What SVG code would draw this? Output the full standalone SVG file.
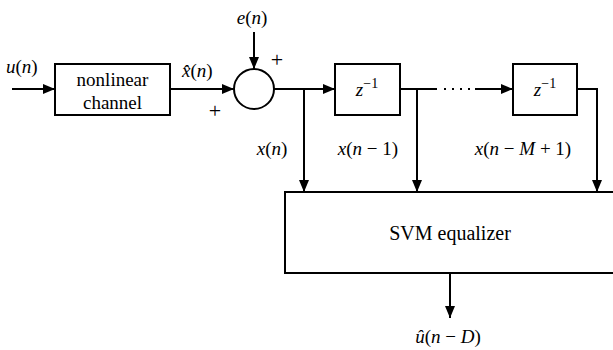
<svg xmlns="http://www.w3.org/2000/svg" width="613" height="350" viewBox="0 0 613 350">
<defs>
<marker id="ah" viewBox="0 0 12 10" refX="12" refY="5" markerWidth="12" markerHeight="10" markerUnits="userSpaceOnUse" orient="auto">
<path d="M0,0 L12,5 L0,10 Z" fill="#000"/>
</marker>
</defs>
<style>
.box{fill:#fff;stroke:#000;stroke-width:2}
.ln{fill:none;stroke:#000;stroke-width:2}
.tx{font-family:'Liberation Serif','Times New Roman',serif;font-size:19px;fill:#000}
.plus{font-family:'Liberation Serif','Times New Roman',serif;font-size:22px;fill:#000}
.i{font-style:italic}
</style>
<rect width="613" height="350" fill="#fff"/>
<g id="connectors">
<line class="ln" x1="12" y1="89" x2="55" y2="89" marker-end="url(#ah)"/>
<line class="ln" x1="170" y1="89" x2="234" y2="89" marker-end="url(#ah)"/>
<line class="ln" x1="254" y1="32" x2="254" y2="69" marker-end="url(#ah)"/>
<line class="ln" x1="274" y1="89" x2="335" y2="89" marker-end="url(#ah)"/>
<line class="ln" x1="304" y1="88" x2="304" y2="192" marker-end="url(#ah)"/>
<line class="ln" x1="400" y1="89" x2="437" y2="89"/>
<line class="ln" x1="417" y1="88" x2="417" y2="192" marker-end="url(#ah)"/>
<line x1="444" y1="89" x2="470" y2="89" stroke="#000" stroke-width="2" stroke-dasharray="2,6"/>
<line class="ln" x1="475" y1="89" x2="513" y2="89" marker-end="url(#ah)"/>
<polyline class="ln" points="577,89 597,89 597,192" marker-end="url(#ah)"/>
<line class="ln" x1="450" y1="273" x2="450" y2="318" marker-end="url(#ah)"/>
</g>
<g id="channel">
<rect class="box" x="55" y="64" width="115" height="51"/>
<text class="tx" x="112.5" y="86" text-anchor="middle">nonlinear</text>
<text class="tx" x="112.5" y="109" text-anchor="middle">channel</text>
</g>
<g id="adder">
<circle cx="254" cy="89" r="20" fill="#fff" stroke="#000" stroke-width="2"/>
<text class="plus" x="277" y="67" text-anchor="middle">+</text>
<text class="plus" x="215" y="118" text-anchor="middle">+</text>
</g>
<g id="delay1">
<rect class="box" x="335" y="64" width="65" height="51"/>
<text class="tx" x="367" y="96" text-anchor="middle"><tspan class="i">z</tspan><tspan font-size="14" dy="-8">−1</tspan></text>
</g>
<g id="delay2">
<rect class="box" x="513" y="64" width="64" height="51"/>
<text class="tx" x="545" y="96" text-anchor="middle"><tspan class="i">z</tspan><tspan font-size="14" dy="-8">−1</tspan></text>
</g>
<g id="svm">
<rect class="box" x="285" y="192" width="340" height="81"/>
<text class="tx" x="450" y="240" style="font-size:20px" text-anchor="middle">SVM equalizer</text>
</g>
<g id="labels">
<text class="tx" x="6" y="73"><tspan class="i">u</tspan>(<tspan class="i">n</tspan>)</text>
<text class="tx" x="182" y="77"><tspan class="i">x̂</tspan>(<tspan class="i">n</tspan>)</text>
<text class="tx" x="252" y="24" text-anchor="middle"><tspan class="i">e</tspan>(<tspan class="i">n</tspan>)</text>
<text class="tx" x="272" y="155" text-anchor="middle"><tspan class="i">x</tspan>(<tspan class="i">n</tspan>)</text>
<text class="tx" x="368" y="155" text-anchor="middle"><tspan class="i">x</tspan>(<tspan class="i">n</tspan> − 1)</text>
<text class="tx" x="523" y="155" text-anchor="middle"><tspan class="i">x</tspan>(<tspan class="i">n</tspan> − <tspan class="i">M</tspan> + 1)</text>
<text class="tx" x="448" y="343" text-anchor="middle"><tspan class="i">û</tspan>(<tspan class="i">n</tspan> − <tspan class="i">D</tspan>)</text>
</g>
</svg>
